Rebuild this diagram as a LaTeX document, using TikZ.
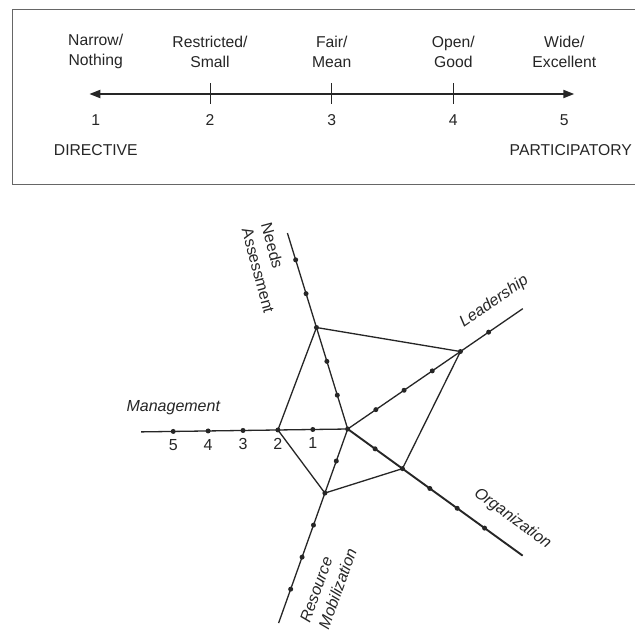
\documentclass[tikz,border=0pt]{standalone}
\usepackage{fontspec}
\setmainfont{Liberation Sans}
\usetikzlibrary{calc,arrows.meta}
\begin{document}
\begin{tikzpicture}[x=1pt,y=-1pt,
  ink/.style={draw=black!85, line width=1.3pt},
  boldaxis/.style={draw=black!85, line width=1.9pt},
  dot/.style={circle, fill=black!85, inner sep=0pt, minimum size=5pt},
  scaletxt/.style={font=\fontsize{15.7}{20}\selectfont, text=black!85, align=center, inner sep=0pt},
  axislbl/.style={font=\fontsize{16}{20}\selectfont\itshape, text=black!85, align=left, inner sep=0pt},
  uplbl/.style={font=\fontsize{16}{20}\selectfont, text=black!85, align=left, inner sep=0pt},
  numlbl/.style={font=\fontsize{16}{20}\selectfont, text=black!85, inner sep=0pt}]
\useasboundingbox (0,0) rectangle (635,630);
\clip (0,0) rectangle (635,630);
\fill[white] (0,0) rectangle (635,630);

% ---------- scale box ----------
\draw[draw=black!60, line width=1pt] (12.3,9.3) rectangle (660,184.3);
\coordinate (sl) at (89.3,94);
\coordinate (sr) at (574.3,94);
\draw[draw=black!85, line width=2pt, {Triangle[length=11pt,width=8pt]}-{Triangle[length=11pt,width=8pt]}] (sl) -- (sr);
\foreach \x/\n in {210/t2, 331.7/t3, 453.3/t4}{
  \coordinate (\n) at (\x,94);
  \draw[draw=black!85, line width=1pt] ($(\n)+(0,-10.7)$) -- ($(\n)+(0,10)$);
}
\node[scaletxt] (w1) at (95.7,51.7) {Narrow/\\Nothing};
\node[scaletxt] (w2) at (210,51.7) {Restricted/\\Small};
\node[scaletxt] (w3) at (331.7,51.7) {Fair/\\Mean};
\node[scaletxt] (w4) at (453.3,51.7) {Open/\\Good};
\node[scaletxt] (w5) at (564.3,51.7) {Wide/\\Excellent};
\node[scaletxt] (n1) at (95.7,120) {1};
\node[scaletxt] (n2) at (210,120) {2};
\node[scaletxt] (n3) at (331.7,120) {3};
\node[scaletxt] (n4) at (453.3,120) {4};
\node[scaletxt] (n5) at (564.3,120) {5};
\node[scaletxt] (dir) at (95.8,150) {DIRECTIVE};
\node[scaletxt] (par) at (570.8,150) {PARTICIPATORY};

% ---------- radar ----------
\coordinate (C) at (347.7,429);
\foreach \n/\a/\u/\e in {M/179.2/34.9/206.5, N/-107.1/35.4/205, L/-34.5/34.2/212.5, R/109.6/34.0/206}{
  \coordinate (\n end) at ($(C)+(\a:\e)$);
  \draw[ink] (C) -- (\n end);
}
\coordinate (O end) at ($(C)+(35.9:216)$);
\draw[boldaxis] (C) -- (O end);

\foreach \n/\a/\u in {M/179.2/34.9, N/-107.1/35.4, L/-34.5/34.2, O/35.9/33.8, R/109.6/34.0}{
  \foreach \k in {1,...,5}{
    \pgfmathsetmacro\rr{\k*\u}
    \coordinate (\n\k) at ($(C)+(\a:\rr)$);
  }
}
\draw[ink, line join=miter] (M2) -- (N3) -- (L4) -- (O2) -- (R2) -- cycle;

\node[dot] (c0) at (C) {};
\foreach \n in {M,N,L,O,R}{
  \foreach \k in {1,...,5}{
    \node[dot] (d\n\k) at (\n\k) {};
  }
}
\foreach \k in {1,...,5}{
  \node[numlbl] (ml\k) at ($(M\k)+(0,13.8)$) {\k};
}

\node[axislbl] (lm) at (173.3,407.7) {Management};
\node[uplbl, rotate=-75] (ln) at (268,268) {Needs\\Assessment};
\node[axislbl, rotate=34.5] (ll) at (494.2,301.7) {Leadership};
\node[axislbl, rotate=-35.9] (lo) at (512.5,518.5) {Organization};
\node[axislbl, rotate=70.4] (lr) at (328.3,585.5) {Resource\\Mobilization};
\end{tikzpicture}
\end{document}
